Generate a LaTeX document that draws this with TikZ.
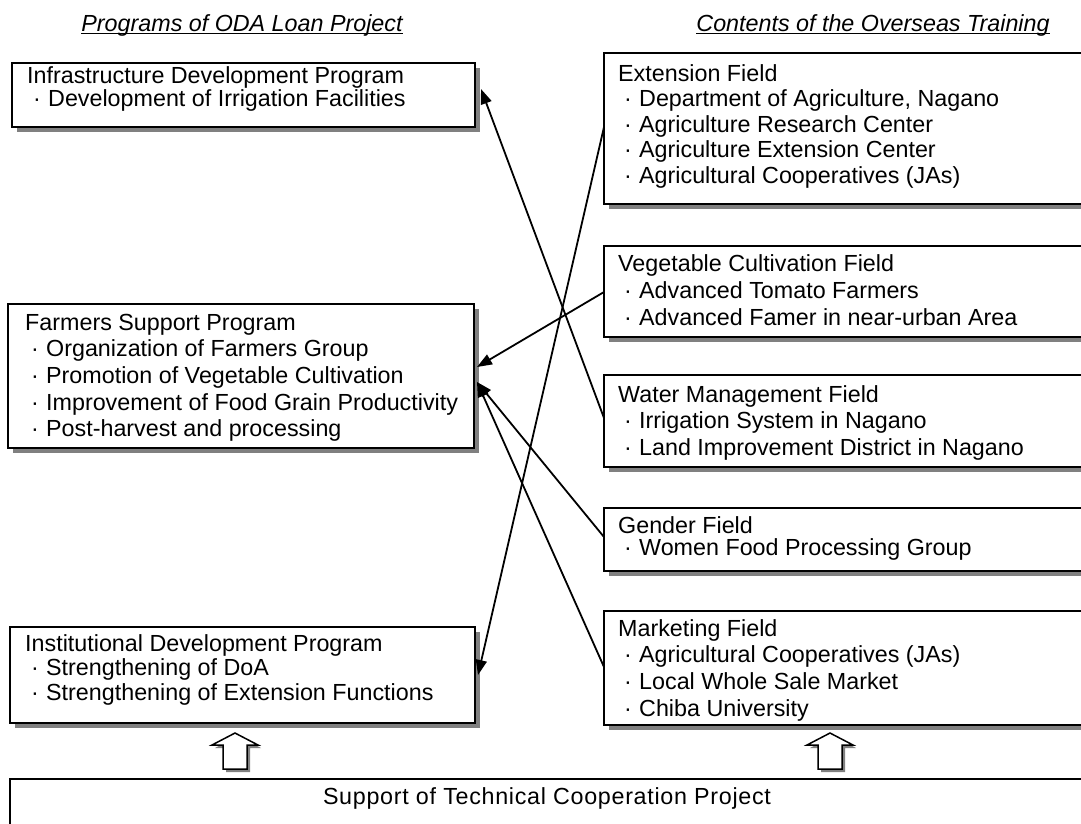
\documentclass[tikz,border=0pt]{standalone}
\usepackage{fontspec}
\setmainfont{Liberation Sans}
\usetikzlibrary{arrows.meta,calc,shadows}

% body text size used in every box
\newcommand\bodyfont{\fontsize{23.3pt}{26pt}\selectfont}
% a stack of lines whose first baseline is the node's base
\newcommand\linestack[2]{\vtop{\baselineskip=#1\lineskiplimit=-100pt\relax #2}}
% heading line and bulleted line of a box
\newcommand\headline[1]{\hbox{#1}}
\newcommand\bline[1]{\hbox{\makebox[21pt][l]{\hspace{6pt}·}#1}}
% underline set just below the baseline
\newcommand\ulin[1]{\setbox0\hbox{#1}\rlap{\rule[-3pt]{\wd0}{1.3pt}}\box0}

\begin{document}
\begin{tikzpicture}[x=1pt,y=-1pt,
  box/.style={draw, line width=2pt, fill=white, rectangle, inner sep=0pt,
    outer sep=0pt, anchor=north west,
    drop shadow={shadow xshift=5pt, shadow yshift=-5pt, fill=black!50, opacity=1}},
  txt/.style={anchor=base west, inner sep=0pt, font=\bodyfont},
  link/.style={line width=1.8pt, -{Triangle[length=15pt,width=11pt]}},
  hollow/.style={draw, line width=1.5pt, fill=white, line join=miter,
    drop shadow={shadow xshift=3pt, shadow yshift=-3pt, fill=black!50, opacity=1}}]

\useasboundingbox (0,0) rectangle (1081,823);
\clip (0,0) rectangle (1081,823);
\fill[white] (0,0) rectangle (1081,823);

% column headings
\node[inner sep=0pt, anchor=base, font=\bodyfont\itshape] (lhead) at (242,31)
  {\ulin{Programs of ODA Loan Project}};
\node[inner sep=0pt, anchor=base, font=\bodyfont\itshape] (rhead) at (873,31)
  {\ulin{Contents of the Overseas Training}};

% programs of the loan project
\node[box, minimum width=463, minimum height=64] (infra) at (12,63) {};
\node[txt] (infra-t) at ($(infra.north west)+(15,20)$) {\linestack{23pt}{%
  \headline{Infrastructure Development Program}
  \bline{Development of Irrigation Facilities}}};

\node[box, minimum width=466, minimum height=144] (farm) at (8,304) {};
\node[txt] (farm-t) at ($(farm.north west)+(17,26)$) {\linestack{26.7pt}{%
  \headline{Farmers Support Program}
  \bline{Organization of Farmers Group}
  \bline{Promotion of Vegetable Cultivation}
  \bline{Improvement of Food Grain Productivity}
  \bline{Post-harvest and processing}}};

\node[box, minimum width=465, minimum height=96] (inst) at (10,627) {};
\node[txt] (inst-t) at ($(inst.north west)+(15,24)$) {\linestack{24.5pt}{%
  \headline{Institutional Development Program}
  \bline{Strengthening of DoA}
  \bline{Strengthening of Extension Functions}}};

% contents of the training
\node[box, minimum width=538, minimum height=151] (ext) at (604,53) {};
\node[txt] (ext-t) at ($(ext.north west)+(14,28)$) {\linestack{25.5pt}{%
  \headline{Extension Field}
  \bline{Department of Agriculture, Nagano}
  \bline{Agriculture Research Center}
  \bline{Agriculture Extension Center}
  \bline{Agricultural Cooperatives (JAs)}}};

\node[box, minimum width=538, minimum height=91] (veg) at (604,246) {};
\node[txt] (veg-t) at ($(veg.north west)+(14,25)$) {\linestack{27pt}{%
  \headline{Vegetable Cultivation Field}
  \bline{Advanced Tomato Farmers}
  \bline{Advanced Famer in near-urban Area}}};

\node[box, minimum width=538, minimum height=92] (water) at (604,375) {};
\node[txt] (water-t) at ($(water.north west)+(14,27)$) {\linestack{26.5pt}{%
  \headline{Water Management Field}
  \bline{Irrigation System in Nagano}
  \bline{Land Improvement District in Nagano}}};

\node[box, minimum width=538, minimum height=63] (gender) at (604,508) {};
\node[txt] (gender-t) at ($(gender.north west)+(14,25)$) {\linestack{22pt}{%
  \headline{Gender Field}
  \bline{Women Food Processing Group}}};

\node[box, minimum width=538, minimum height=114] (market) at (604,611) {};
\node[txt] (market-t) at ($(market.north west)+(14,25)$) {\linestack{26.7pt}{%
  \headline{Marketing Field}
  \bline{Agricultural Cooperatives (JAs)}
  \bline{Local Whole Sale Market}
  \bline{Chiba University}}};

% technical cooperation support
\node[box, minimum width=1132, minimum height=80] (support) at (10,779) {};
\node[txt, anchor=base] (support-t) at (547,804)
  {\addfontfeatures{LetterSpace=3}Support of Technical Cooperation Project};

% links from training contents to programs
\draw[link] ($(water.north west)+(0,43)$)  -- ($(infra.north east)+(6,26)$);
\draw[link] ($(veg.north west)+(0,46)$)    -- ($(farm.north east)+(3,63)$);
\draw[link] ($(gender.north west)+(0,29)$) -- ($(farm.north east)+(3,78)$);
\draw[link] ($(market.north west)+(0,56)$) -- ($(farm.north east)+(3,78)$);
\draw[link] ($(ext.north west)+(0,74)$)    -- ($(inst.north east)+(3,48)$);

% hollow upward arrows from the support box
\foreach \cx in {235, 830}{
  \path[hollow] (\cx-12,769) -- (\cx-12,745) -- (\cx-23,745) -- (\cx,733)
    -- (\cx+23,745) -- (\cx+12,745) -- (\cx+12,769) -- cycle;
}
\end{tikzpicture}
\end{document}
